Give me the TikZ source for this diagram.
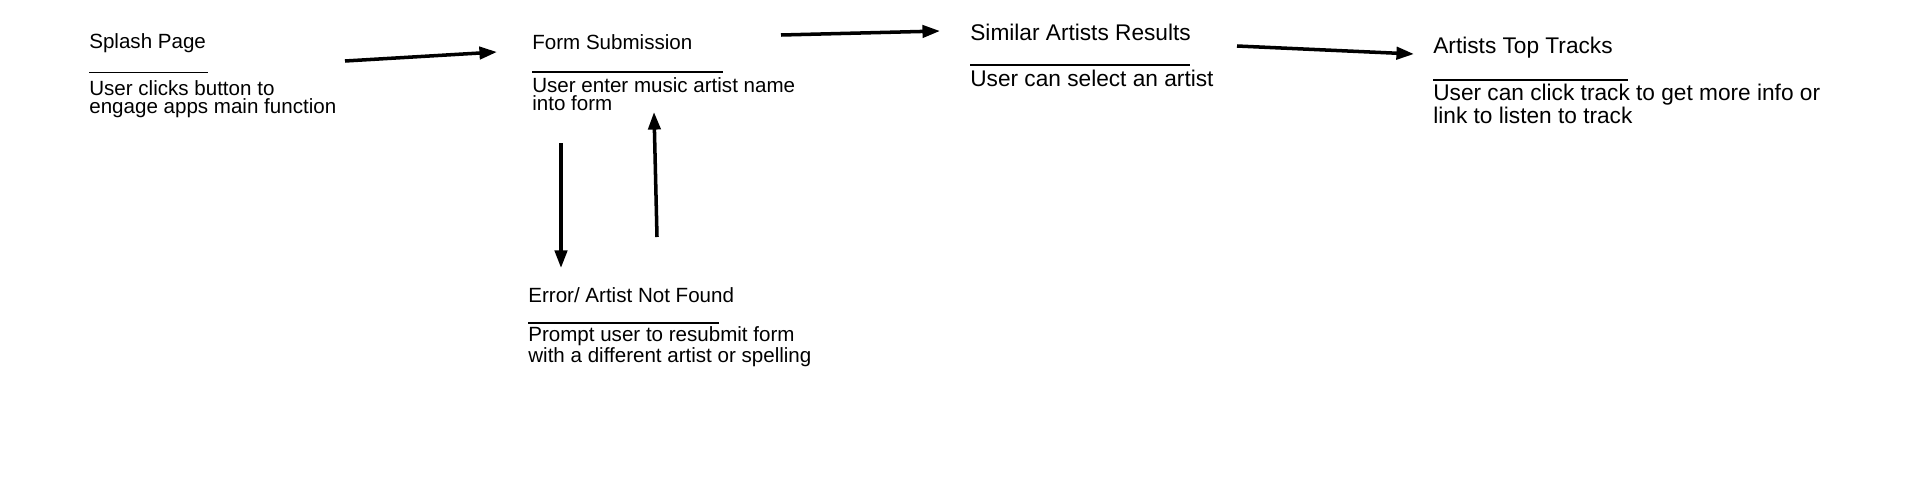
\documentclass[tikz,border=0pt]{standalone}
\usepackage{fontspec}
\setmainfont{Liberation Sans}
\usetikzlibrary{arrows.meta}

\begin{document}
\begin{tikzpicture}[
  smalltxt/.style={anchor=base west, inner sep=0pt, align=left, font=\fontsize{11.7pt}{10.5pt}\selectfont},
  bigtxt/.style={anchor=base west, inner sep=0pt, align=left, font=\fontsize{12.9pt}{13pt}\selectfont},
  rule/.style={line width=0.9pt},
  flow/.style={line width=2pt, -{Triangle[length=10pt,width=7pt]}}]
\useasboundingbox (0,0) rectangle (38.38,-9.78);

\node[smalltxt] (splash) at (1.78,-0.96) {Splash Page};
\draw[rule] (1.78,-1.45) -- ++(2.38,0);
\node[smalltxt] (splashtxt) at (1.78,-2.27) {User clicks button to\\engage apps main function};

\node[smalltxt] (form) at (10.64,-0.98) {Form Submission};
\draw[rule] (10.64,-1.44) -- ++(3.82,0);
\node[smalltxt] (formtxt) at (10.64,-2.21) {User enter music artist name\\into form};

\node[bigtxt] (similar) at (19.40,-0.80) {Similar Artists Results};
\draw[rule] (19.40,-1.30) -- ++(4.40,0);
\node[bigtxt] (similartxt) at (19.40,-1.72) {User can select an artist};

\node[bigtxt] (tracks) at (28.66,-1.06) {Artists Top Tracks};
\draw[rule] (28.66,-1.60) -- ++(3.90,0);
\node[bigtxt] (trackstxt) at (28.66,-2.46) {User can click track to get more info or\\link to listen to track};

\node[smalltxt] (error) at (10.56,-6.04) {Error/ Artist Not Found};
\draw[rule] (10.56,-6.46) -- ++(3.82,0);
\node[smalltxt] (errortxt) at (10.56,-7.24) {Prompt user to resubmit form\\with a different artist or spelling};

% arrow ends
\coordinate (a1s) at (6.90,-1.22);
\coordinate (a1e) at (9.94,-1.04);
\coordinate (a2s) at (15.62,-0.70);
\coordinate (a2e) at (18.80,-0.62);
\coordinate (a3s) at (24.74,-0.92);
\coordinate (a3e) at (28.28,-1.08);
\coordinate (dns) at (11.22,-2.86);
\coordinate (dne) at (11.22,-5.36);
\coordinate (ups) at (13.14,-4.74);
\coordinate (upe) at (13.08,-2.24);

\draw[flow] (a1s) -- (a1e);
\draw[flow] (a2s) -- (a2e);
\draw[flow] (a3s) -- (a3e);
\draw[flow] (dns) -- (dne);
\draw[flow] (ups) -- (upe);
\end{tikzpicture}
\end{document}
